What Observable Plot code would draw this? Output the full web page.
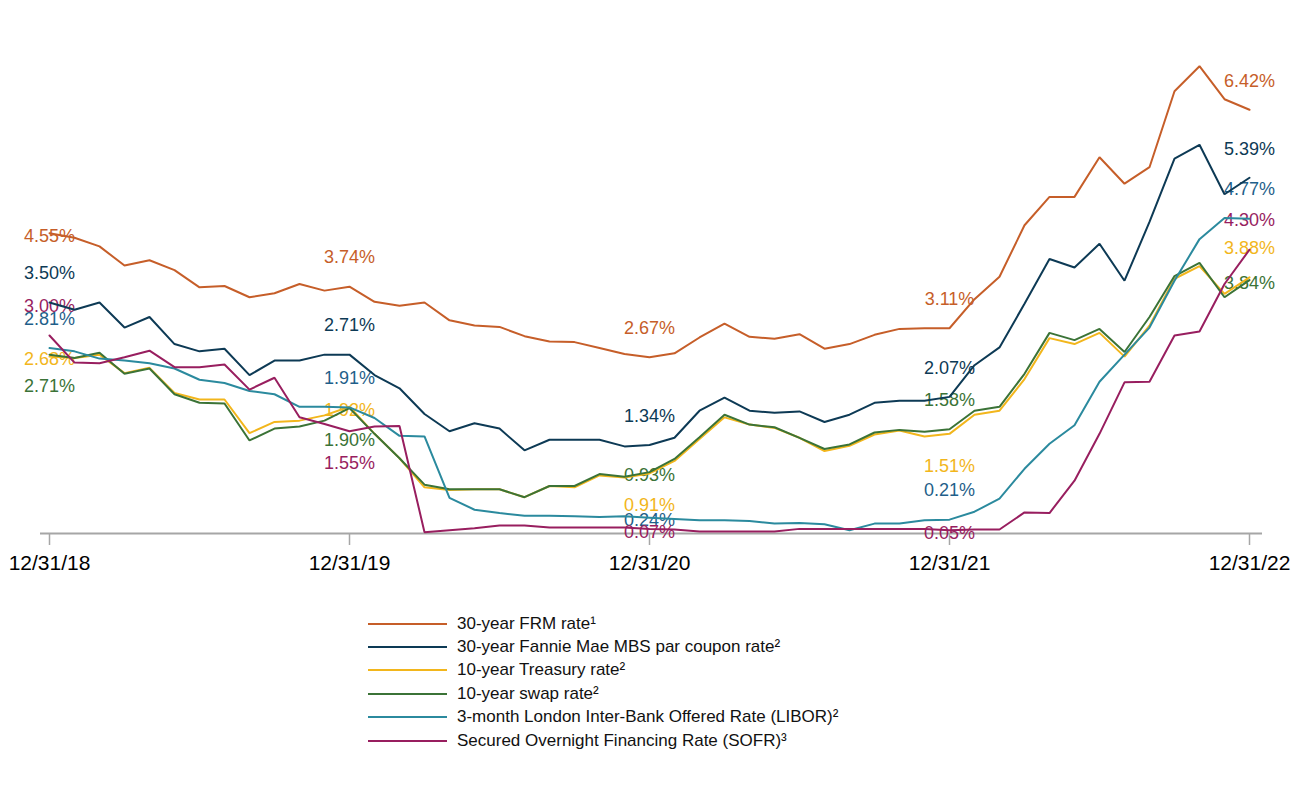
<!DOCTYPE html>
<html>
<head>
<meta charset="utf-8">
<script src="https://cdn.jsdelivr.net/npm/d3@7"></script>
<script src="https://cdn.jsdelivr.net/npm/@observablehq/plot@0.6"></script>
<style>
  html, body { margin: 0; padding: 0; background: #ffffff; }
  body { font-family: "Liberation Sans", Arial, sans-serif; width: 1300px; }
  #chart { width: 1300px; height: 600px; }
  #legend { margin-top: 12px; padding-left: 368px; }
  .row { display: flex; align-items: center; height: 23.4px; font-size: 17px; color: #111; }
  .swatch { width: 79px; height: 2px; margin-right: 10px; }
</style>
</head>
<body>
<div id="chart"></div>
<div id="legend"></div>
<script>
// ---- Data (monthly, 12/31/18 .. 12/31/22, 49 points) ----
const tickIdx = [0, 12, 24, 36, 48];
const tickLabels = ["12/31/18", "12/31/19", "12/31/20", "12/31/21", "12/31/22"];

const seriesNames = [
  "30-year FRM rate¹",
  "30-year Fannie Mae MBS par coupon rate²",
  "10-year Treasury rate²",
  "10-year swap rate²",
  "3-month London Inter-Bank Offered Rate (LIBOR)²",
  "Secured Overnight Financing Rate (SOFR)³"
];
const seriesColors = ["#C65E29", "#0D3A55", "#F2B61C", "#3B7337", "#2B8A9E", "#981E5F"];
const labelColors  = ["#C65E29", "#0D3A55", "#F2B61C", "#3B7337", "#1F5F8A", "#981E5F"];

const frm = [4.55,4.48,4.35,4.06,4.14,3.99,3.73,3.75,3.58,3.64,3.78,3.68,3.74,
  3.51,3.45,3.50,3.23,3.15,3.13,2.99,2.91,2.90,2.81,2.72,2.67,
  2.73,2.97,3.18,2.98,2.95,3.02,2.80,2.87,3.01,3.10,3.11,3.11,
  3.55,3.89,4.67,5.10,5.10,5.70,5.30,5.55,6.70,7.08,6.58,6.42];
const mbs = [3.50,3.39,3.50,3.12,3.28,2.87,2.76,2.80,2.40,2.62,2.62,2.71,2.71,
  2.40,2.20,1.81,1.55,1.67,1.59,1.26,1.42,1.42,1.42,1.32,1.34,
  1.45,1.86,2.06,1.86,1.83,1.85,1.69,1.80,1.98,2.01,2.01,2.07,
  2.55,2.82,3.48,4.16,4.03,4.39,3.83,4.72,5.68,5.89,5.14,5.39];
const treasury = [2.68,2.66,2.71,2.43,2.51,2.13,2.03,2.03,1.52,1.69,1.71,1.79,1.92,
  1.51,1.14,0.70,0.66,0.67,0.67,0.55,0.72,0.70,0.88,0.85,0.91,
  1.10,1.43,1.76,1.65,1.60,1.45,1.25,1.33,1.50,1.56,1.47,1.51,
  1.80,1.86,2.34,2.96,2.87,3.04,2.68,3.15,3.86,4.05,3.63,3.88];
const swap = [2.71,2.66,2.74,2.42,2.50,2.11,1.98,1.97,1.41,1.59,1.62,1.71,1.90,
  1.51,1.14,0.74,0.67,0.67,0.67,0.55,0.72,0.72,0.90,0.86,0.93,
  1.13,1.46,1.80,1.65,1.61,1.45,1.28,1.35,1.53,1.57,1.54,1.58,
  1.86,1.92,2.42,3.04,2.93,3.10,2.75,3.28,3.90,4.10,3.58,3.84];
const libor = [2.81,2.76,2.65,2.62,2.58,2.50,2.33,2.28,2.16,2.11,1.92,1.92,1.91,
  1.75,1.48,1.47,0.54,0.36,0.31,0.27,0.27,0.26,0.25,0.26,0.24,
  0.22,0.20,0.20,0.19,0.15,0.16,0.14,0.05,0.15,0.15,0.20,0.21,
  0.33,0.53,0.98,1.36,1.64,2.30,2.71,3.12,3.83,4.46,4.78,4.77];
const sofr = [3.00,2.59,2.58,2.67,2.77,2.52,2.52,2.56,2.18,2.36,1.76,1.66,1.55,
  1.62,1.63,0.02,0.05,0.08,0.12,0.12,0.09,0.09,0.09,0.09,0.07,
  0.06,0.03,0.03,0.03,0.03,0.07,0.07,0.07,0.07,0.07,0.07,0.05,
  0.06,0.06,0.32,0.31,0.80,1.51,2.29,2.30,3.00,3.06,3.78,4.30];

const seriesValues = [frm, mbs, treasury, swap, libor, sofr];

// label placement at each tick date, per series
const labelPos = [
  ["center", "above", "above",  "above",  "above"],
  ["above",  "above", "above",  "above",  "above"],
  ["center", "center","below",  "below",  "above"],
  ["below",  "below", "center", "above",  "center"],
  ["above",  "above", "center", "above",  "above"],
  ["above",  "below", "center", "center", "above"]
];
const dyMap = {above: -29, center: 3, below: 32};

// ---- Build marks ----
const marks = [];
marks.push(Plot.ruleY([0], {stroke: "#a6a6a6", strokeWidth: 2}));
marks.push(Plot.axisX(tickIdx, {
  anchor: "bottom",
  tickSize: 12,
  tickPadding: 10,
  tickFormat: d => tickLabels[tickIdx.indexOf(d)],
  stroke: "#a6a6a6",
  strokeWidth: 1.5,
  fill: "#000",
  fontSize: 21,
  label: null
}));

seriesValues.forEach((vals, s) => {
  for (const pos of ["above", "center", "below"]) {
    const js = tickIdx.map((t, j) => j).filter(j => labelPos[s][j] === pos);
    if (!js.length) continue;
    marks.push(Plot.text(js, {
      x: j => tickIdx[j],
      y: j => vals[tickIdx[j]],
      text: j => vals[tickIdx[j]].toFixed(2) + "%",
      fill: labelColors[s],
      dy: dyMap[pos],
      fontSize: 18,
      textAnchor: "middle"
    }));
  }
});

seriesValues.forEach((vals, s) => {
  const rows = vals.map((v, i) => ({i, v}));
  marks.push(Plot.line(rows, {
    x: "i", y: "v",
    stroke: seriesColors[s],
    strokeWidth: 2,
    strokeLinejoin: "miter",
    curve: "linear"
  }));
});

const chart = Plot.plot({
  width: 1300,
  height: 600,
  marginLeft: 40,
  marginRight: 38,
  marginTop: 38,
  marginBottom: 67,
  x: {type: "linear", domain: [-0.36, 48.52], axis: null},
  y: {type: "linear", domain: [0, 7.5], axis: null},
  style: {fontFamily: "'Liberation Sans', Arial, sans-serif", background: "#ffffff", overflow: "visible"},
  marks
});
document.getElementById("chart").appendChild(chart);

// ---- Legend ----
const legend = document.getElementById("legend");
seriesNames.forEach((name, s) => {
  const row = document.createElement("div");
  row.className = "row";
  const sw = document.createElement("span");
  sw.className = "swatch";
  sw.style.background = seriesColors[s];
  const tx = document.createElement("span");
  tx.textContent = name;
  row.appendChild(sw);
  row.appendChild(tx);
  legend.appendChild(row);
});
</script>
</body>
</html>
